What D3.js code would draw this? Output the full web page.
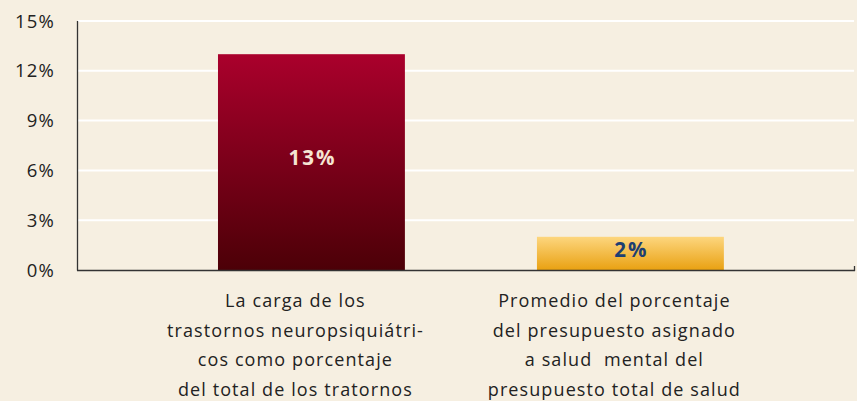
<!DOCTYPE html>
<html>
<head>
<meta charset="utf-8">
<script src="https://cdn.jsdelivr.net/npm/d3@7/dist/d3.min.js"></script>
<style>
  body { margin: 0; background: #f6efe1; }
  svg { display: block; font-family: "Open Sans", "DejaVu Sans", sans-serif; }
</style>
</head>
<body>
<script>
var width = 857,
	height = 401,
	bg = "#f6efe1";

// data
var categories = [
	["La carga de los", "trastornos neuropsiquiátri-", "cos como porcentaje", "del total de los tratornos"],
	["Promedio del porcentaje", "del presupuesto asignado", "a salud\u00a0\u00a0mental del", "presupuesto total de salud"]
];
var values = [13, 2];
var valueLabels = ["13%", "2%"];
var yTicks = [0, 3, 6, 9, 12, 15];

var svg = d3.select("body")
	.append("svg")
	.attr("width", width)
	.attr("height", height);

svg.append("rect").attr("width", width).attr("height", height).attr("fill", bg);

var defs = svg.append("defs");
var gradRed = defs.append("linearGradient").attr("id", "gRed").attr("x1", 0).attr("x2", 0).attr("y1", 0).attr("y2", 1);
gradRed.append("stop").attr("offset", "0%").attr("stop-color", "#aa002c");
gradRed.append("stop").attr("offset", "100%").attr("stop-color", "#4c0007");
var gradGold = defs.append("linearGradient").attr("id", "gGold").attr("x1", 0).attr("x2", 0).attr("y1", 0).attr("y2", 1);
gradGold.append("stop").attr("offset", "0%").attr("stop-color", "#fdd67e");
gradGold.append("stop").attr("offset", "100%").attr("stop-color", "#e9a112");

var x = d3.scaleBand()
	.domain(d3.range(values.length))
	.range([77, 854])
	.paddingInner(0.414)
	.paddingOuter(0.425)
	.align(0.52);

var y = d3.scaleLinear().domain([0, 15]).range([270, 21]);

// gridlines
svg.selectAll(".grid")
	.data(yTicks.filter(function(d) { return d > 0; }))
	.enter().append("line")
	.attr("x1", 78).attr("x2", 854)
	.attr("y1", function(d) { return y(d); })
	.attr("y2", function(d) { return y(d); })
	.attr("stroke", "#ffffff")
	.attr("stroke-width", 2);

// y tick labels
svg.selectAll(".ytick")
	.data(yTicks)
	.enter().append("text")
	.attr("x", 55)
	.attr("y", function(d) { return y(d); })
	.attr("dy", "0.36em")
	.attr("text-anchor", "end")
	.attr("font-size", 18.5)
	.attr("letter-spacing", 1.2)
	.attr("fill", "#222")
	.text(function(d) { return d + "%"; });

// bars
svg.selectAll(".bar")
	.data(values)
	.enter().append("rect")
	.attr("x", function(d, i) { return x(i); })
	.attr("y", function(d) { return y(d); })
	.attr("width", x.bandwidth())
	.attr("height", function(d) { return y(0) - y(d); })
	.attr("fill", function(d, i) { return i == 0 ? "url(#gRed)" : "url(#gGold)"; });

// value labels
svg.selectAll(".val")
	.data(values)
	.enter().append("text")
	.attr("x", function(d, i) { return x(i) + x.bandwidth() / 2 + 1; })
	.attr("y", function(d) { return (y(d) + y(0)) / 2 - 4; })
	.attr("dy", "0.36em")
	.attr("text-anchor", "middle")
	.attr("font-size", 20.5)
	.attr("font-weight", "bold")
	.attr("letter-spacing", 2)
	.attr("fill", function(d, i) { return i == 0 ? "#f6e4d2" : "#1d3f72"; })
	.text(function(d, i) { return valueLabels[i]; });

// axes
svg.append("line").attr("x1", 77.5).attr("x2", 77.5).attr("y1", 21).attr("y2", 270.5)
	.attr("stroke", "#333").attr("stroke-width", 1.3);
svg.append("line").attr("x1", 77).attr("x2", 855).attr("y1", 270.5).attr("y2", 270.5)
	.attr("stroke", "#333").attr("stroke-width", 1.3);
svg.append("line").attr("x1", 854.5).attr("x2", 854.5).attr("y1", 266).attr("y2", 271)
	.attr("stroke", "#333").attr("stroke-width", 1.3);

// category labels
var cat = svg.selectAll(".cat")
	.data(categories)
	.enter().append("text")
	.attr("text-anchor", "middle")
	.attr("font-size", 18)
	.attr("letter-spacing", 1.1)
	.attr("fill", "#222");
cat.selectAll("tspan")
	.data(function(d, i) { return d.map(function(t) { return { t: t, i: i }; }); })
	.enter().append("tspan")
	.attr("x", function(d) { return x(d.i) + x.bandwidth() / 2 - 16; })
	.attr("y", function(d, j) { return 307 + j * 29.6; })
	.text(function(d) { return d.t; });
</script>
</body>
</html>
